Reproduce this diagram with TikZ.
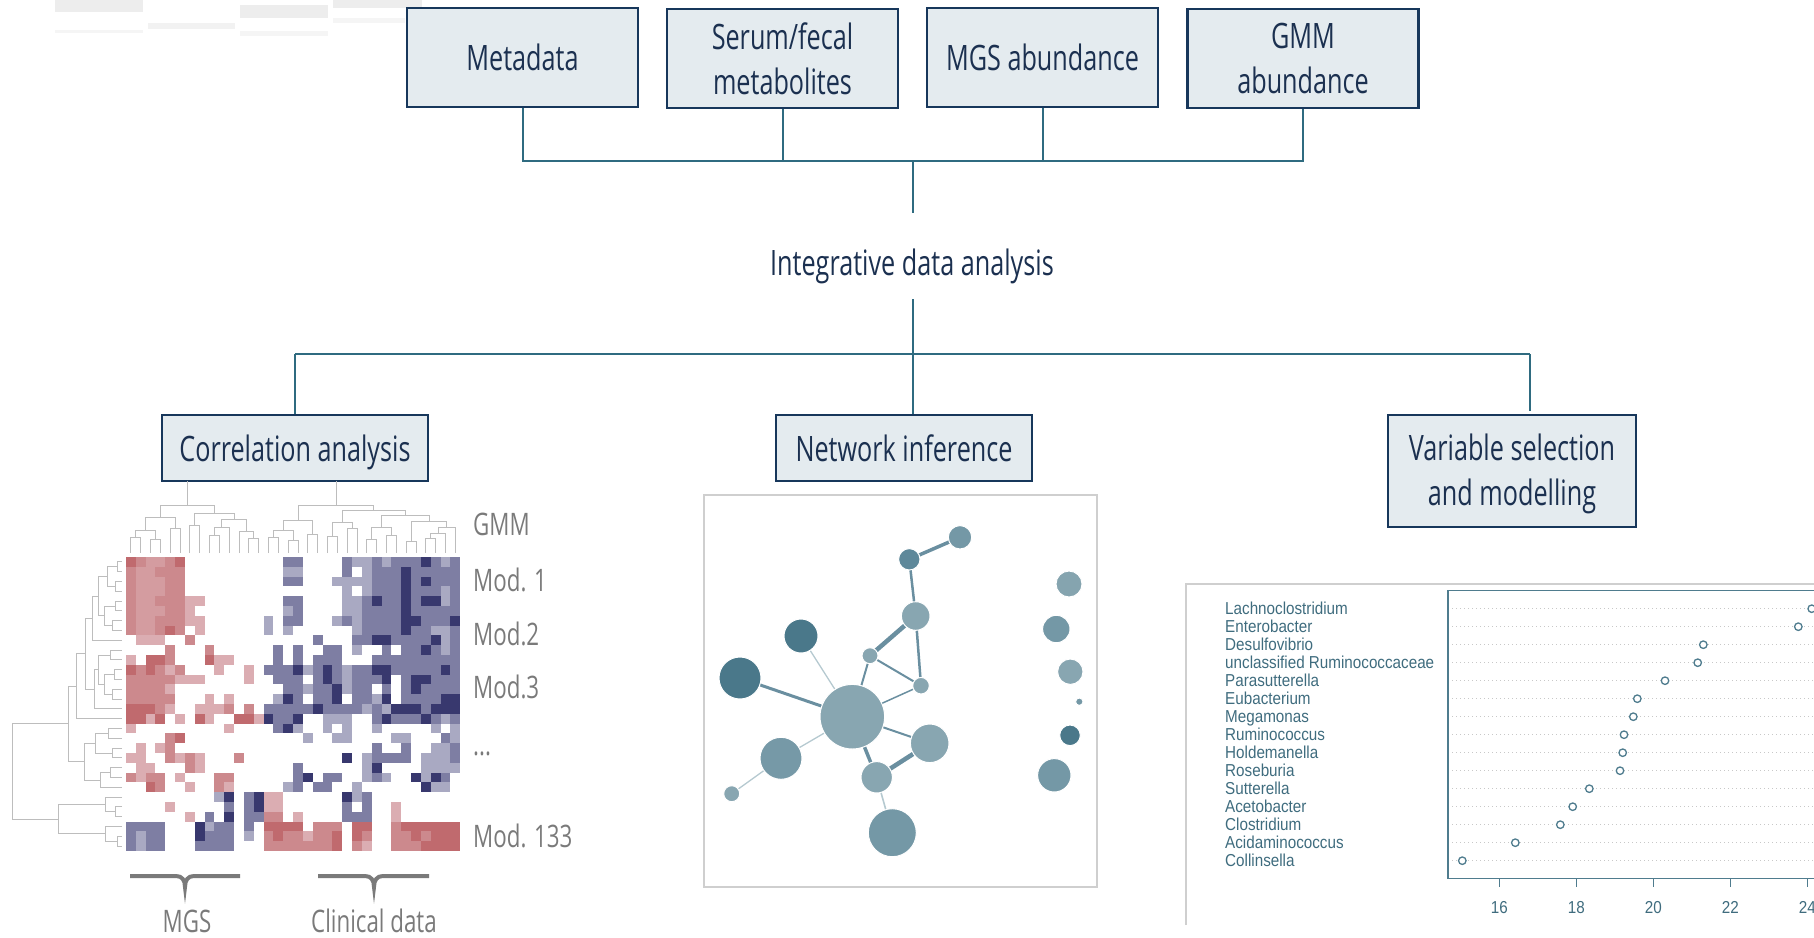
\documentclass[tikz,border=0pt]{standalone}
\usepackage{fontspec}
\setmainfont{Open Sans}[FakeStretch=0.72]
\newfontfamily\plotfont{Liberation Sans}[FakeStretch=0.88]
\definecolor{boxline}{HTML}{17375B}
\definecolor{boxfill}{HTML}{E4EBEF}
\definecolor{boxtext}{HTML}{1B3050}
\definecolor{conn}{HTML}{2F6B80}
\definecolor{labgray}{HTML}{7A7A7A}
\definecolor{dendgray}{HTML}{BDBDBD}
\definecolor{hma}{HTML}{DBADB2}
\definecolor{hmd}{HTML}{D49CA0}
\definecolor{hmb}{HTML}{CC898D}
\definecolor{hmc}{HTML}{C06A6E}
\definecolor{hmx}{HTML}{A9A9C2}
\definecolor{hmy}{HTML}{7E7EA3}
\definecolor{hmz}{HTML}{38386E}
\definecolor{netdark}{HTML}{4A788A}
\definecolor{netmd}{HTML}{5E889A}
\definecolor{netmed}{HTML}{7498A6}
\definecolor{netlt}{HTML}{88A6B1}
\definecolor{edgec}{HTML}{6A8FA0}
\definecolor{edgelt}{HTML}{B5C9D0}
\definecolor{frameg}{HTML}{CFCFCF}
\definecolor{plotc}{HTML}{4F7C8E}
\definecolor{plottext}{HTML}{3F6C7E}
\definecolor{dotg}{HTML}{C8C8C8}
\pgfdeclarelayer{background}
\pgfsetlayers{background,main}
\newcommand\boxfont{\fontsize{35}{45}\selectfont}
\newcommand\hmfont{\fontsize{31}{36}\selectfont}
\newcommand\pfont{\plotfont\fontsize{17.3}{20}\selectfont}
% heatmap
\newcount\hmc
\newcommand\hmrow[2]{\def\hmrowy{#1}\hmc=0 \hmparse#2\relax}
\def\hmparse#1{\ifx\relax#1\else\hmcell{#1}\advance\hmc by 1 \expandafter\hmparse\fi}
\newcommand\hmcell[1]{\if.#1\else\fill[hm#1] ({126+9.83*\the\hmc},{557+9.8*\hmrowy}) rectangle ++(9.83,9.8);\fi}
% dendrogram pieces
\newcommand\td[5]{\draw[dend] (#2,#3) -- (#2,#1) -- (#4,#1) -- (#4,#5);}
\newcommand\ld[5]{\draw[dend] (#2,#3) -- (#1,#3) -- (#1,#5) -- (#4,#5);}
\begin{document}
\begin{tikzpicture}[x=1pt,y=-1pt,
  topbox/.style={draw=boxline, fill=boxfill, line width=2.5pt, minimum width=231pt, minimum height=99pt, inner sep=0pt, align=center, font=\boxfont, text=boxtext},
  subbox/.style={draw=boxline, fill=boxfill, line width=2.5pt, inner sep=0pt, align=center, font=\boxfont, text=boxtext},
  boxtxt/.style={font=\boxfont, text=boxtext, align=center, inner sep=0pt},
  cline/.style={draw=conn, line width=2pt},
  dend/.style={draw=dendgray, line width=1pt},
  hmlab/.style={font=\hmfont, text=labgray, anchor=base west, inner sep=0pt},
  brace/.style={draw=labgray, line width=4pt},
  nd/.style={circle, inner sep=0pt, draw=white, line width=1pt},
  edge/.style={draw=edgec},
  edgel/.style={draw=edgelt, line width=1.3pt},
  plotlab/.style={font=\pfont, text=plottext, inner sep=0pt},
  dotline/.style={draw=dotg, line width=1pt, dash pattern=on 1pt off 3pt},
  dotc/.style={circle, draw=plotc, fill=white, line width=1.3pt, minimum size=7.5pt, inner sep=0pt}
]
\useasboundingbox (0,0) rectangle (1814,937);
% faint remnants top left
\fill[black!7] (55,0) rectangle (143,12);
\fill[black!4] (55,30) rectangle (143,33);
\fill[black!5] (148,23) rectangle (235,29);
\fill[black!7] (240,5) rectangle (328,18);
\fill[black!4] (240,31) rectangle (328,36);
\fill[black!7] (333,0) rectangle (422,8);
\fill[black!4] (333,18) rectangle (405,23);

% ---------- top boxes ----------
\node[topbox, text depth=0pt] (meta) at (522.5,57.5) {Metadata};
\node[topbox] (serum) at (782.5,58.5) {Serum/fecal\\metabolites};
\node[topbox, text depth=0pt] (mgs) at (1042.5,57.5) {MGS abundance};
\node[topbox] (gmm) at (1303,58.5) {GMM\\abundance};
\coordinate (j1) at (913,161);
\coordinate (j1b) at (913,213);
\draw[cline] (meta.south) |- (gmm.south |- j1) -- (gmm.south);
\draw[cline] (serum.south) -- (serum.south |- j1);
\draw[cline] (mgs.south) -- (mgs.south |- j1);
\draw[cline] (j1) -- (j1b);
\node[font=\boxfont, text=boxtext, anchor=base, inner sep=0pt] (ida) at (912,275) {Integrative data analysis};

% ---------- analysis boxes ----------
\node[subbox, text depth=0pt, minimum width=266pt, minimum height=66pt] (corr) at (295,448) {Correlation analysis};
\node[subbox, text depth=0pt, minimum width=256pt, minimum height=66pt] (net) at (904,448) {Network inference};
\node[subbox, minimum width=248pt, minimum height=112pt] (var) at (1512,471) {};
\node[boxtxt] (vart) at (1512,474) {Variable selection\\and modelling};
\coordinate (j2) at (913,299);
\coordinate (bl) at (295,354);
\coordinate (br) at (1530,354);
\draw[cline] (j2) -- (j2 |- net.north);
\draw[cline, line width=2.6pt] (bl) -- (br);
\draw[cline] (bl) -- (corr.north);
\draw[cline] (br) -- ++(0,57);

% ---------- heatmap ----------
\hmrow{0}{cbddbc..........yy....yxxyxyyyzyxy}
\hmrow{1}{bddbbb..........xx....y.xyyyzyyyyy}
\hmrow{2}{bdddbb..........yy...xxxxyyyzyzyyy}
\hmrow{3}{bdddbb................x.xyyyzyyyxy}
\hmrow{4}{bddbbbaa........yy....xxyzyyzyzzxy}
\hmrow{5}{bdddbba.........xy....xxyyyyzyyyyy}
\hmrow{6}{bddbbbaa......x.yy...xyxyyyyzzyyyz}
\hmrow{7}{bddbcb.a......x.x......xyyyyzyyxxy}
\hmrow{8}{.aaa..b............y...yyzzyyyyzxy}
\hmrow{9}{....b...b......y.y..yy.x..y.yyzyxy}
\hmrow{10}{a.ccb...caa....y.y.yyy...yyyyyyyyy}
\hmrow{11}{cbcbab...a..a.yyyzxyzyxyyzzyyyyyzy}
\hmrow{12}{bbbbbaaa....a..yyy.yzyxyyyz.yzzyyy}
\hmrow{13}{bbbba...........yyxyyzxyy.y.yzyyyy}
\hmrow{14}{bbbbb...a.a....xzy.yyz.yyxz.yyyyzz}
\hmrow{15}{cccba..aaab.b.yyyyyzyyyyxyxzzzyzzz}
\hmrow{16}{ccac.a.ca..ccazyyz..xxx..yzyyyzyxy}
\hmrow{17}{a.........a....yzx..x.x..x.....x.x}
\hmrow{18}{....bc............x..xx....xx...yx}
\hmrow{19}{.a.ab....................y..y..xxy}
\hmrow{20}{aa..baba...b..........z.xyyyy.xxxy}
\hmrow{21}{.aa...ba.........y......xz....xxxx}
\hmrow{22}{babb.a...bb......yz.yy..xyx..zxzy.}
\hmrow{23}{..cb..a..ba.....xy.yy..x......zxx.}
\hmrow{24}{.........xz.yzaa......zxy.........}
\hmrow{25}{....a.....y.yzaa......y.y..a......}
\hmrow{26}{......a.y.z.yybb.a....yyy..a......}
\hmrow{27}{yyyy...zxyy.y.cccc.bbb.cc..bcccccc}
\hmrow{28}{yxyy...zyyy.x.bcbbabbc.cb..bbcbccc}
\hmrow{29}{yxyy...yyyy...bbbbbbbc.ba..bbbcccc}

% top dendrogram, left group
\td{537}{130.9}{553}{140.7}{553}
\td{539}{150.6}{553}{160.4}{553}
\td{530}{135.8}{537}{155.5}{539}
\td{528}{170.2}{553}{180.1}{553}
\td{517}{145.7}{530}{175.2}{528}
\td{525}{189.9}{553}{199.7}{553}
\td{535}{209.6}{553}{219.4}{553}
\td{527}{214.5}{535}{229.2}{553}
\td{538}{248.9}{553}{258.7}{553}
\td{531}{239.1}{553}{253.8}{538}
\td{519}{221.9}{527}{246.5}{531}
\td{513}{194.8}{525}{234.2}{519}
\td{505}{160.4}{517}{214.5}{513}
\draw[dend] (187.5,505) -- (187.5,481);
% top dendrogram, right group
\td{537}{268.6}{553}{278.4}{553}
\td{540}{288.2}{553}{298.1}{553}
\td{530}{273.5}{537}{293.2}{540}
\td{534}{307.9}{553}{317.7}{553}
\td{520}{283.3}{530}{312.8}{534}
\td{536}{327.6}{553}{337.4}{553}
\td{528}{347.2}{553}{357.1}{553}
\td{522}{332.5}{536}{352.2}{528}
\td{539}{366.9}{553}{376.7}{553}
\td{535}{386.6}{553}{396.4}{553}
\td{527}{371.8}{539}{391.5}{535}
\td{541}{406.2}{553}{416.1}{553}
\td{538}{425.9}{553}{435.7}{553}
\td{533}{430.8}{538}{445.6}{553}
\td{527}{438.2}{533}{455.4}{553}
\td{521}{411.2}{541}{446.8}{527}
\td{515}{381.6}{527}{429}{521}
\td{510}{342.3}{522}{405.3}{515}
\td{505}{298.1}{520}{373.8}{510}
\draw[dend] (336,505) -- (336,481);

% left dendrogram
\ld{117}{122}{561.9}{122}{571.7}
\ld{115}{122}{581.5}{122}{591.3}
\ld{107}{117}{566.8}{115}{586.4}
\ld{115}{122}{601.1}{122}{610.9}
\ld{112}{122}{620.7}{122}{630.5}
\ld{104}{115}{606.0}{112}{625.6}
\ld{98}{107}{576.6}{104}{615.8}
\ld{92}{98}{596.2}{122}{640.3}
\ld{110}{122}{650.1}{122}{659.9}
\ld{114}{122}{669.7}{122}{679.5}
\ld{112}{122}{689.3}{122}{699.1}
\ld{104}{114}{674.6}{112}{694.2}
\ld{98}{110}{655.0}{104}{684.4}
\ld{94}{98}{669.7}{122}{708.9}
\ld{85}{92}{618.25}{94}{689.3}
\ld{76}{85}{653.8}{122}{718.7}
\ld{108}{122}{728.5}{122}{738.3}
\ld{112}{122}{748.1}{122}{757.9}
\ld{95}{108}{733.4}{112}{753.0}
\ld{110}{122}{767.7}{122}{777.5}
\ld{100}{110}{772.6}{122}{787.3}
\ld{84}{95}{743.2}{100}{780.0}
\ld{68}{76}{686.25}{84}{761.6}
\ld{115}{122}{806.9}{122}{816.7}
\ld{105}{122}{797.1}{115}{811.8}
\ld{117}{122}{836.3}{122}{846.1}
\ld{105}{122}{826.5}{117}{841.2}
\ld{58}{105}{804.45}{105}{833.85}
\ld{12}{68}{723.9}{58}{819.15}

% heatmap labels
\node[hmlab] (lgmm) at (473,535) {GMM};
\node[hmlab] (lm1) at (473,591.7) {Mod. 1};
\node[hmlab] (lm2) at (473,645) {Mod.2};
\node[hmlab] (lm3) at (473,698.3) {Mod.3};
\node[hmlab] (ldots) at (473,755) {...};
\node[hmlab] (lm133) at (473,847.5) {Mod. 133};
% braces
\draw[brace] (130,876) -- (176,876) .. controls (182,876) and (185,880) .. (185,887) .. controls (185,880) and (188,876) .. (194,876) -- (240,876);
\draw[brace] (318,876) -- (365,876) .. controls (371,876) and (374,880) .. (374,887) .. controls (374,880) and (377,876) .. (383,876) -- (429,876);
\node[font=\hmfont, text=labgray, anchor=base, inner sep=0pt] (lmgs) at (187,932) {MGS};
\node[font=\hmfont, text=labgray, anchor=base, inner sep=0pt] (lclin) at (374,932) {Clinical data};

% ---------- network ----------
\draw[frameg, line width=1.2pt] (704,495) rectangle (1097,887);
\node[nd, fill=netmed, minimum size=23.4pt] (n1) at (960,537.3) {};
\node[nd, fill=netmd, minimum size=21.4pt] (n2) at (909.3,559.3) {};
\node[nd, fill=netlt, minimum size=28.6pt] (n3) at (915.7,616) {};
\node[nd, fill=netlt, minimum size=16pt] (n4) at (870,655.7) {};
\node[nd, fill=netlt, minimum size=16.6pt] (n5) at (921,685.7) {};
\node[nd, fill=netlt, minimum size=64.6pt] (n6) at (852.3,716.7) {};
\node[nd, fill=netdark, minimum size=34pt] (n7) at (801,636) {};
\node[nd, fill=netdark, minimum size=42pt] (n8) at (740,678) {};
\node[nd, fill=netmed!90!netlt, minimum size=42pt] (n9) at (781,758.3) {};
\node[nd, fill=netlt, minimum size=16pt] (n10) at (731.7,793.7) {};
\node[nd, fill=netlt, minimum size=38.6pt] (n11) at (929.7,743.3) {};
\node[nd, fill=netlt, minimum size=31.4pt] (n12) at (876.7,777.3) {};
\node[nd, fill=netmed, minimum size=48pt] (n13) at (892.3,832.7) {};
\node[nd, fill=netlt!85!netmed, minimum size=26pt] (i1) at (1069,584) {};
\node[nd, fill=netmed, minimum size=27.4pt] (i2) at (1056.3,629) {};
\node[nd, fill=netlt, minimum size=25.4pt] (i3) at (1070.3,671.7) {};
\node[nd, fill=netmed, minimum size=7.4pt] (i4) at (1079.3,701.7) {};
\node[nd, fill=netdark, minimum size=20.6pt] (i5) at (1070,735.3) {};
\node[nd, fill=netmed, minimum size=33.4pt] (i6) at (1054.3,775.3) {};
\begin{pgfonlayer}{background}
\draw[edge, line width=3.5pt] (n1.center) -- (n2.center);
\draw[edge, line width=2.5pt] (n2.center) -- (n3.center);
\draw[edge, line width=4.5pt] (n3.center) -- (n4.center);
\draw[edge, line width=2.5pt] (n3.center) -- (n5.center);
\draw[edge, line width=2pt] (n4.center) -- (n5.center);
\draw[edge, line width=2pt] (n4.center) -- (n6.center);
\draw[edge, line width=1.5pt] (n5.center) -- (n6.center);
\draw[edgel] (n7.center) -- (n6.center);
\draw[edge, line width=3pt] (n8.center) -- (n6.center);
\draw[edgel] (n9.center) -- (n6.center);
\draw[edgel] (n9.center) -- (n10.center);
\draw[edge, line width=2pt] (n6.center) -- (n11.center);
\draw[edge, line width=3.5pt] (n6.center) -- (n12.center);
\draw[edge, line width=4.5pt] (n11.center) -- (n12.center);
\draw[edgel, line width=1.6pt] (n12.center) -- (n13.center);
\end{pgfonlayer}

% ---------- dot plot ----------
\draw[frameg, line width=1.2pt] (1186,925) -- (1186,584) -- (1814,584);
\draw[plotc, line width=1.2pt] (1814,590.7) -- (1448,590.7) -- (1448,878.3) -- (1814,878.3);
\foreach \lab/\val [count=\k from 0] in {Lachnoclostridium/1811.7, Enterobacter/1798.3, Desulfovibrio/1703.3, unclassified Ruminococcaceae/1697.7, Parasutterella/1665, Eubacterium/1637.3, Megamonas/1633.3, Ruminococcus/1624, Holdemanella/1622.7, Roseburia/1620, Sutterella/1589.3, Acetobacter/1572.7, Clostridium/1560.3, Acidaminococcus/1515.3, Collinsella/1462.3}{
  \node[plotlab, anchor=base west] (pl\k) at ({1225},{614.9+18*\k}) {\lab};
  \draw[dotline] ({1452},{608.7+18*\k}) -- ({1814},{608.7+18*\k});
  \node[dotc] (pd\k) at ({\val},{608.7+18*\k}) {};
}
\foreach \v in {16,18,20,22,24}{
  \draw[plotc, line width=1.2pt] ({1499.4+38.5*(\v-16)},878.3) -- ({1499.4+38.5*(\v-16)},886.7);
  \node[plotlab, anchor=base] (tk\v) at ({1499.4+38.5*(\v-16)},913) {\v};
}
\end{tikzpicture}
\end{document}
